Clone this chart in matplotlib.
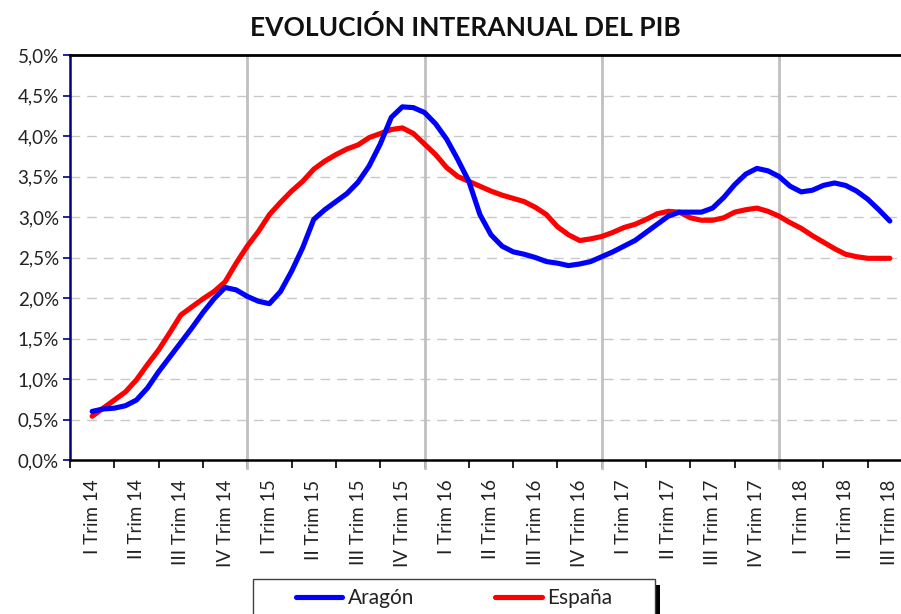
import numpy as np
import matplotlib
matplotlib.use("Agg")
import matplotlib.pyplot as plt
from matplotlib.patches import Rectangle
from matplotlib.ticker import FixedLocator, FuncFormatter

plt.rcParams['font.family'] = ['Lato', 'DejaVu Sans']

categories = ["I Trim 14", "II Trim 14", "III Trim 14", "IV Trim 14",
              "I Trim 15", "II Trim 15", "III Trim 15", "IV Trim 15",
              "I Trim 16", "II Trim 16", "III Trim 16", "IV Trim 16",
              "I Trim 17", "II Trim 17", "III Trim 17", "IV Trim 17",
              "I Trim 18", "II Trim 18", "III Trim 18"]

# values read at quarter-category steps (percent)
aragon = [0.60, 0.63, 0.64, 0.67, 0.74, 0.89, 1.09, 1.27, 1.45, 1.63, 1.82, 1.99,
          2.13, 2.10, 2.02, 1.96, 1.93, 2.08, 2.33, 2.62, 2.97, 3.09, 3.19, 3.29,
          3.43, 3.63, 3.90, 4.23, 4.36, 4.35, 4.29, 4.15, 3.96, 3.71, 3.44, 3.03,
          2.78, 2.64, 2.57, 2.54, 2.50, 2.45, 2.43, 2.40, 2.42, 2.45, 2.51, 2.57,
          2.64, 2.71, 2.81, 2.91, 3.01, 3.06, 3.06, 3.06, 3.11, 3.24, 3.40, 3.53,
          3.60, 3.57, 3.50, 3.38, 3.31, 3.33, 3.39, 3.42, 3.39, 3.32, 3.22, 3.09,
          2.95]
espana = [0.54, 0.64, 0.74, 0.84, 0.99, 1.18, 1.36, 1.57, 1.79, 1.89, 1.99, 2.08,
          2.20, 2.43, 2.64, 2.82, 3.03, 3.18, 3.32, 3.44, 3.59, 3.69, 3.77, 3.84,
          3.89, 3.98, 4.03, 4.08, 4.10, 4.03, 3.90, 3.77, 3.61, 3.50, 3.44, 3.38,
          3.32, 3.27, 3.23, 3.19, 3.12, 3.03, 2.88, 2.78, 2.71, 2.73, 2.76, 2.81,
          2.87, 2.91, 2.97, 3.04, 3.07, 3.06, 2.99, 2.96, 2.96, 2.99, 3.06, 3.09,
          3.11, 3.07, 3.01, 2.93, 2.86, 2.77, 2.69, 2.61, 2.54, 2.51, 2.49, 2.49,
          2.49]

yticks = [0.0, 0.5, 1.0, 1.5, 2.0, 2.5, 3.0, 3.5, 4.0, 4.5, 5.0]
year_breaks = [4, 8, 12, 16]

x = np.linspace(0, len(categories) - 1, len(aragon))

W, H = 901, 614
fig = plt.figure(figsize=(W / 100, H / 100), dpi=100)
ax = fig.add_axes([70 / W, 1 - 460 / H, 842 / W, 405 / H])

for yv in yticks[1:-1]:
    ax.axhline(yv, color='#c8c8c8', lw=1.0, dashes=(7, 5), zorder=1)

for b in year_breaks:
    ax.plot([b - 0.5, b - 0.5], [-0.1, 4.97], color='#c0c0c0', lw=2,
            clip_on=False, zorder=2)

l1, = ax.plot(x, aragon, color='#0000ff', lw=3.7, solid_capstyle='round',
              label='Aragón', zorder=4)
l2, = ax.plot(x, espana, color='#ff0000', lw=3.7, solid_capstyle='round',
              label='España', zorder=3)

ax.set_xlim(-0.5, len(categories) - 0.5)
ax.set_ylim(0, 5)

ax.yaxis.set_major_locator(FixedLocator(yticks))
ax.yaxis.set_major_formatter(FuncFormatter(lambda v, p: f"{v:.1f}%".replace('.', ',')))
ax.tick_params(axis='y', direction='out', length=5, width=1.2, color='#000080',
               labelsize=13.5, labelcolor='#222222', pad=3)

ax.set_xticks(np.arange(len(categories) + 1) - 0.5)
ax.set_xticklabels([])
ax.set_xticks(np.arange(len(categories)), minor=True)
ax.set_xticklabels(categories, minor=True, rotation=90, fontsize=13.5, color='#222222')
ax.tick_params(axis='x', which='major', direction='out', length=6, width=1.2, color='black')
ax.tick_params(axis='x', which='minor', length=0, pad=14)

ax.spines['left'].set_color('#000080')
ax.spines['left'].set_linewidth(1.8)
ax.spines['bottom'].set_color('black')
ax.spines['bottom'].set_linewidth(1.8)
ax.spines['top'].set_color('black')
ax.spines['top'].set_linewidth(2.0)
ax.spines['right'].set_visible(False)

fig.text(465 / W, 1 - 27 / H, "EVOLUCIÓN INTERANUAL DEL PIB", ha='center', va='center',
         fontsize=19, fontweight='bold', color='#111111')

# legend frame + shadow
lx0, ly_top, lw_ = 253 / W, 1 - 579 / H, 402 / W
fig.patches.append(Rectangle((lx0 + 5 / W, ly_top - 80 / H), lw_, 74 / H,
                             transform=fig.transFigure, facecolor='black',
                             edgecolor='none', zorder=0))
fig.patches.append(Rectangle((lx0, ly_top - 80 / H), lw_, 80 / H,
                             transform=fig.transFigure, facecolor='white',
                             edgecolor='#404040', lw=1.0, zorder=1))
leg = fig.legend(handles=[l1, l2], loc='center',
                 bbox_to_anchor=(lx0 + lw_ / 2, 1 - 598 / H),
                 ncol=2, borderaxespad=0, borderpad=0, fontsize=15,
                 frameon=False, handlelength=2.25, handletextpad=0.25,
                 columnspacing=3.9)
leg.set_zorder(5)
for t in leg.get_texts():
    t.set_color('#222222')

fig.savefig("out.png", dpi=100)
